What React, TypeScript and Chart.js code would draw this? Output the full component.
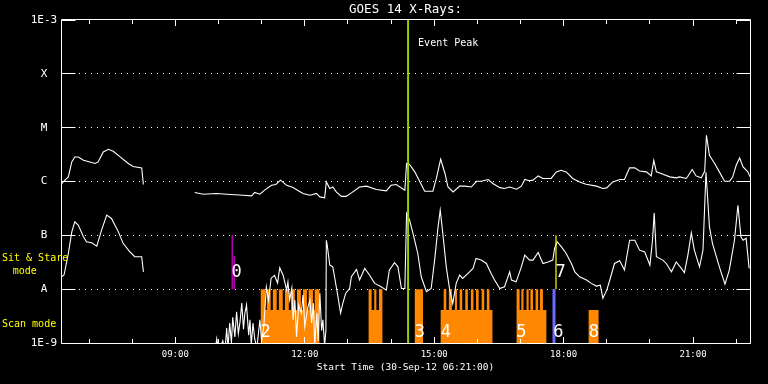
import React, { useEffect, useRef } from 'react';
import { Chart, registerables } from 'chart.js';

Chart.register(...registerables);

const TITLE = 'GOES 14 X-Rays:';
const X_TITLE = 'Start Time (30-Sep-12 06:21:00)';
const X_MIN = 6.35;
const X_MAX = 22.32;
const Y_MIN = 1e-9;
const Y_MAX = 1e-3;

const Y_TICK_VALUES = [1e-9, 1e-8, 1e-7, 1e-6, 1e-5, 1e-4, 1e-3];
const Y_TICK_LABELS = ['1E-9', 'A', 'B', 'C', 'M', 'X', '1E-3'];
const X_LABEL_HOURS = [9, 12, 15, 18, 21];
const X_LABELS = ['09:00', '12:00', '15:00', '18:00', '21:00'];
const X_HOUR_TICKS = [7, 8, 9, 10, 11, 12, 13, 14, 15, 16, 17, 18, 19, 20, 21, 22];

// Long-wavelength channel (upper curve)
const LONG_TIMES = [
  6.35, 6.40, 6.52, 6.60, 6.67, 6.75, 6.87, 7.02, 7.14, 7.21, 7.33, 7.45, 7.56, 7.72, 7.91, 8.02, 8.22, 8.26, 8.30,
  9.45, 9.65, 9.96, 10.19, 10.57, 10.77, 10.84, 10.96, 11.07, 11.23, 11.33, 11.44, 11.58, 11.73, 11.87, 11.96,
  12.12, 12.27, 12.35, 12.46, 12.50, 12.58, 12.65, 12.73, 12.85, 12.96, 13.08, 13.27, 13.43, 13.66, 13.89, 14.00,
  14.12, 14.32, 14.36, 14.43, 14.55, 14.67, 14.78, 14.97, 15.05, 15.15, 15.25, 15.32, 15.44, 15.59, 15.71, 15.86,
  15.98, 16.09, 16.25, 16.36, 16.52, 16.63, 16.75, 16.91, 17.02, 17.10, 17.21, 17.29, 17.41, 17.52, 17.71, 17.83,
  17.94, 18.06, 18.21, 18.37, 18.52, 18.76, 18.91, 19.00, 19.14, 19.30, 19.41, 19.53, 19.65, 19.76, 19.92, 20.03,
  20.09, 20.15, 20.26, 20.46, 20.61, 20.69, 20.84, 20.88, 20.98, 21.07, 21.19, 21.27, 21.31, 21.38, 21.50, 21.61,
  21.73, 21.85, 21.92, 22.00, 22.08, 22.16, 22.27, 22.32,
];
const LONG_FLUX = [
  0.88e-6, 0.98e-6, 1.22e-6, 2.31e-6, 2.86e-6, 2.86e-6, 2.48e-6, 2.31e-6, 2.16e-6, 2.31e-6, 3.54e-6, 3.97e-6, 3.65e-6, 2.86e-6, 2.16e-6, 1.90e-6, 1.79e-6, 0.88e-6, null,
  0.625e-6, 0.58e-6, 0.60e-6, 0.58e-6, 0.557e-6, 0.54e-6, 0.625e-6, 0.58e-6, 0.69e-6, 0.854e-6, 0.88e-6, 1.06e-6, 0.85e-6, 0.774e-6, 0.66e-6, 0.60e-6,
  0.557e-6, 0.60e-6, 0.518e-6, 0.497e-6, 0.98e-6, 0.74e-6, 0.79e-6, 0.64e-6, 0.53e-6, 0.53e-6, 0.615e-6, 0.79e-6, 0.82e-6, 0.71e-6, 0.67e-6, 0.85e-6,
  0.88e-6, 0.69e-6, 2.16e-6, 2.07e-6, 1.51e-6, 0.98e-6, 0.66e-6, 0.66e-6, 1.14e-6, 2.59e-6, 1.41e-6, 0.79e-6, 0.64e-6, 0.82e-6, 0.82e-6, 0.79e-6,
  1.01e-6, 1.01e-6, 1.09e-6, 0.92e-6, 0.77e-6, 0.74e-6, 0.79e-6, 0.72e-6, 0.82e-6, 1.09e-6, 1.03e-6, 1.06e-6, 1.27e-6, 1.14e-6, 1.14e-6, 1.51e-6,
  1.62e-6, 1.51e-6, 1.14e-6, 0.98e-6, 0.89e-6, 0.82e-6, 0.74e-6, 0.76e-6, 0.98e-6, 1.09e-6, 1.09e-6, 1.79e-6, 1.79e-6, 1.57e-6, 1.51e-6, 1.27e-6,
  2.48e-6, 1.51e-6, 1.41e-6, 1.22e-6, 1.17e-6, 1.22e-6, 1.14e-6, 1.25e-6, 1.67e-6, 1.27e-6, 1.17e-6, 1.55e-6, 7.22e-6, 3.07e-6, 2.16e-6, 1.51e-6,
  1.01e-6, 1.01e-6, 1.22e-6, 2.0e-6, 2.74e-6, 1.86e-6, 1.51e-6, 1.22e-6,
];

// Short-wavelength channel (lower curve)
const SHORT_TIMES = [
  6.35, 6.42, 6.52, 6.60, 6.67, 6.75, 6.87, 6.94, 7.06, 7.18, 7.29, 7.41, 7.52, 7.68, 7.79, 7.95, 8.06, 8.22, 8.26, 8.30,
  9.92, 9.96, 10.01, 10.10, 10.15, 10.19, 10.22, 10.26, 10.30, 10.33, 10.38, 10.42, 10.46, 10.50, 10.54, 10.58, 10.61,
  10.65, 10.70, 10.73, 10.76, 10.80, 10.84, 10.89, 10.96, 11.00, 11.05, 11.11, 11.16, 11.22, 11.30, 11.37, 11.42, 11.50,
  11.58, 11.61, 11.65, 11.70, 11.73, 11.77, 11.81, 11.86, 11.92, 11.96, 12.00, 12.07, 12.12, 12.16, 12.20, 12.23, 12.28,
  12.31, 12.35, 12.39, 12.42, 12.46, 12.49, 12.50, 12.52, 12.58, 12.65, 12.69, 12.77, 12.83, 12.88, 12.95, 13.04, 13.08,
  13.20, 13.27, 13.39, 13.50, 13.62, 13.77, 13.89, 13.96, 14.08, 14.16, 14.24, 14.32, 14.36, 14.43, 14.51, 14.62, 14.70,
  14.82, 14.93, 15.01, 15.09, 15.14, 15.20, 15.28, 15.36, 15.43, 15.51, 15.59, 15.66, 15.82, 15.90, 15.97, 16.09, 16.21,
  16.32, 16.40, 16.52, 16.63, 16.75, 16.79, 16.90, 17.02, 17.10, 17.21, 17.29, 17.41, 17.52, 17.64, 17.75, 17.79, 17.85,
  17.95, 18.06, 18.18, 18.26, 18.37, 18.53, 18.64, 18.76, 18.85, 18.91, 19.00, 19.07, 19.18, 19.30, 19.41, 19.53, 19.65,
  19.76, 19.88, 20.00, 20.06, 20.10, 20.15, 20.30, 20.38, 20.50, 20.61, 20.73, 20.80, 20.88, 20.96, 21.03, 21.15, 21.23,
  21.30, 21.38, 21.45, 21.61, 21.74, 21.84, 21.96, 22.04, 22.11, 22.16, 22.23, 22.30,
];
const SHORT_FLUX = [
  1.66e-8, 1.83e-8, 4.6e-8, 1.16e-7, 1.78e-7, 1.55e-7, 0.94e-7, 0.76e-7, 0.73e-7, 0.63e-7, 1.25e-7, 2.37e-7, 2.06e-7, 1.16e-7, 0.71e-7, 0.49e-7, 0.40e-7, 0.40e-7, 2.1e-8, null,
  0.7e-9, 1.2e-9, 0.7e-9, 1.1e-9, 0.7e-9, 1.9e-9, 0.8e-9, 2.35e-9, 1.0e-9, 3.0e-9, 1.3e-9, 3.8e-9, 1.5e-9, 2.5e-9, 5.5e-9, 1.8e-9, 3.5e-9,
  5.1e-9, 1.4e-9, 2.7e-9, 0.9e-9, 2.35e-9, 1.2e-9, 0.8e-9, 2.7e-9, 1.1e-9, 2.0e-9, 1.1e-8, 6.3e-9, 1.6e-8, 1.8e-8, 1.3e-8, 2.5e-8, 1.8e-8,
  9.6e-9, 1.35e-8, 6.3e-9, 1.05e-8, 2.7e-9, 6.3e-9, 1.3e-9, 5.1e-9, 3.6e-9, 7.8e-9, 2.0e-9, 4.6e-9, 6.3e-9, 2.35e-9, 5.5e-9, 0.9e-9, 3.6e-9,
  1.1e-9, 8.4e-9, 1.7e-9, 2.7e-9, 0.9e-9, 1.7e-9, 0.81e-7, 0.66e-7, 2.8e-8, 2.6e-8, 1.7e-8, 7.2e-9, 3.6e-9, 5.4e-9, 8.4e-9, 1.03e-8, 1.7e-8,
  2.33e-8, 1.48e-8, 2.43e-8, 1.83e-8, 1.28e-8, 1.11e-8, 0.96e-8, 2.26e-8, 3.1e-8, 2.6e-8, 1.03e-8, 1.03e-8, 2.55e-7, 1.91e-7, 1.08e-7, 4.6e-8, 1.7e-8,
  0.9e-8, 1.03e-8, 3.47e-8, 1.44e-7, 2.93e-7, 1.08e-7, 2.6e-8, 0.96e-8, 5.4e-9, 1.28e-8, 1.83e-8, 1.58e-8, 2.1e-8, 2.43e-8, 3.73e-8, 3.47e-8, 3.0e-8,
  1.96e-8, 1.48e-8, 1.03e-8, 1.11e-8, 2.1e-8, 1.48e-8, 1.37e-8, 2.6e-8, 4.3e-8, 3.47e-8, 3.47e-8, 4.8e-8, 3.0e-8, 3.2e-8, 3.47e-8, 5.7e-8, 7.6e-8,
  6.1e-8, 4.6e-8, 3.0e-8, 2.1e-8, 1.7e-8, 1.48e-8, 1.28e-8, 1.14e-8, 1.19e-8, 6.8e-9, 0.96e-8, 1.48e-8, 3.0e-8, 3.37e-8, 2.26e-8, 0.81e-7, 0.81e-7,
  5.3e-8, 4.9e-8, 2.8e-8, 8.1e-8, 2.61e-7, 4.0e-8, 3.47e-8, 3.0e-8, 2.1e-8, 3.2e-8, 2.43e-8, 2.02e-8, 4.3e-8, 1.11e-7, 5.3e-8, 2.6e-8, 5.3e-8,
  1.49e-6, 1.44e-7, 0.71e-7, 2.6e-8, 1.24e-8, 2.26e-8, 8.1e-8, 3.63e-7, 0.94e-7, 0.81e-7, 0.88e-7, 2.43e-8,
];

// Scan-mode coverage (stepped): each level holds until the next time
const SCAN_TIMES = [
  6.35,
  10.98, 11.08, 11.12, 11.21, 11.26, 11.35, 11.40, 11.49, 11.54, 11.63, 11.68, 11.77, 11.82, 11.91, 11.96, 12.05, 12.09, 12.19, 12.23, 12.34,
  13.48, 13.55, 13.61, 13.66, 13.72, 13.80,
  14.55, 14.74,
  15.15, 15.22, 15.28, 15.34, 15.41, 15.48, 15.53, 15.59, 15.65, 15.72, 15.78, 15.85, 15.91, 15.97, 16.03, 16.10, 16.16, 16.22, 16.28, 16.35,
  16.91, 16.98, 17.02, 17.07, 17.14, 17.19, 17.23, 17.29, 17.35, 17.41, 17.45, 17.52, 17.60,
  18.58, 18.81,
  22.32,
];
const SCAN_LEVELS = [
  1e-9,
  1e-8, 4.1e-9, 1e-8, 4.1e-9, 1e-8, 4.1e-9, 1e-8, 4.1e-9, 1e-8, 4.1e-9, 1e-8, 4.1e-9, 1e-8, 4.1e-9, 1e-8, 4.1e-9, 1e-8, 4.1e-9, 1e-8, 1e-9,
  1e-8, 4.1e-9, 1e-8, 4.1e-9, 1e-8, 1e-9,
  1e-8, 1e-9,
  4.1e-9, 1e-8, 4.1e-9, 1e-8, 4.1e-9, 1e-8, 4.1e-9, 1e-8, 4.1e-9, 1e-8, 4.1e-9, 1e-8, 4.1e-9, 1e-8, 4.1e-9, 1e-8, 4.1e-9, 1e-8, 4.1e-9, 1e-9,
  1e-8, 4.1e-9, 1e-8, 4.1e-9, 1e-8, 4.1e-9, 1e-8, 4.1e-9, 1e-8, 4.1e-9, 1e-8, 4.1e-9, 1e-9,
  4.1e-9, 1e-9,
  1e-9,
];

// Marker lines
const EVENT_PEAK_TIME = 14.395;
const SIT_STARE_TIMES = [10.318, 10.364];
const SIT_STARE_TOPS = [1e-7, 4.1e-8];
const SIT_STARE_BASE = 1e-8;
const MARK6_TIME = 17.777;
const MARK6_RANGE = [1e-9, 1e-8];
const MARK7_TIME = 17.823;
const MARK7_RANGE = [1e-8, 1e-7];

// Text annotations
const MARK_TEXTS = ['0', '2', '3', '4', '5', '6', '7', '8'];
const MARK_TIMES = [10.42, 11.09, 14.67, 15.27, 17.02, 17.88, 17.93, 18.70];
const MARK_FLUX = [2.07e-8, 1.53e-9, 1.53e-9, 1.53e-9, 1.53e-9, 1.53e-9, 2.07e-8, 1.53e-9];
const PEAK_TEXT = 'Event Peak';
const PEAK_TEXT_TIME = 14.627;
const PEAK_TEXT_FLUX = 3.66e-4;
const MODE_TEXTS = ['Sit & Stare', 'mode', 'Scan mode'];
const MODE_FLUX = [3.78e-8, 2.17e-8, 2.25e-9];

const MONO = '"DejaVu Sans Mono", monospace';

const pts = (ts: number[], vs: (number | null)[]) => ts.map((t, i) => ({ x: t, y: vs[i] }));

const decorPlugin = {
  id: 'decor',
  afterDatasetsDraw(chart: any) {
    const { ctx, chartArea: a, scales } = chart;
    const xs = scales.x;
    const ys = scales.y;
    const L = a.left + 0.5;
    const R = a.right + 0.5;
    const T = a.top - 0.5;
    const B = a.bottom + 0.5;
    ctx.save();
    ctx.strokeStyle = '#ffffff';
    ctx.lineWidth = 1;
    ctx.beginPath();
    ctx.rect(L, T, R - L, B - T);
    // y inward ticks
    Y_TICK_VALUES.forEach((v) => {
      const py = Math.round(ys.getPixelForValue(v) - 0.5) + 0.5;
      ctx.moveTo(L, py); ctx.lineTo(L + 14, py);
      ctx.moveTo(R, py); ctx.lineTo(R - 14, py);
    });
    // x inward ticks
    X_HOUR_TICKS.forEach((h) => {
      const px = Math.round(xs.getPixelForValue(h) - 0.5) + 0.5;
      const len = h % 3 === 0 ? 6.5 : 4.5;
      ctx.moveTo(px, B); ctx.lineTo(px, B - len);
      ctx.moveTo(px, T); ctx.lineTo(px, T + len);
    });
    ctx.stroke();

    // number labels
    ctx.fillStyle = '#ffffff';
    ctx.textAlign = 'center';
    ctx.textBaseline = 'middle';
    ctx.font = `17px ${MONO}`;
    MARK_TEXTS.forEach((t, i) => {
      ctx.fillText(t, xs.getPixelForValue(MARK_TIMES[i]), ys.getPixelForValue(MARK_FLUX[i]));
    });
    // event peak text
    ctx.font = `10px ${MONO}`;
    ctx.textAlign = 'left';
    ctx.fillText(PEAK_TEXT, xs.getPixelForValue(PEAK_TEXT_TIME), ys.getPixelForValue(PEAK_TEXT_FLUX));
    // mode labels (left margin)
    const modeLeft = [2, 12.7, 2];
    ctx.fillStyle = '#ffff00';
    MODE_TEXTS.forEach((t, i) => {
      ctx.fillText(t, modeLeft[i], ys.getPixelForValue(MODE_FLUX[i]));
    });
    ctx.restore();
  },
};

export default function App() {
  const ref = useRef<HTMLCanvasElement>(null);
  useEffect(() => {
    const canvas = ref.current!;
    const lineBase = { pointRadius: 0, pointHoverRadius: 0, tension: 0, fill: false };
    const chart = new Chart(canvas, {
      type: 'line',
      data: {
        datasets: [
          {
            ...lineBase,
            label: 'Event Peak',
            data: [{ x: EVENT_PEAK_TIME, y: Y_MAX }, { x: EVENT_PEAK_TIME, y: Y_MIN }],
            borderColor: '#99cc00',
            borderWidth: 2,
            order: 1,
          },
          {
            ...lineBase,
            label: 'Sit & Stare 1',
            data: [{ x: SIT_STARE_TIMES[0], y: SIT_STARE_TOPS[0] }, { x: SIT_STARE_TIMES[0], y: SIT_STARE_BASE }],
            borderColor: '#dd00dd',
            borderWidth: 1.2,
            order: 1,
          },
          {
            ...lineBase,
            label: 'Sit & Stare 2',
            data: [{ x: SIT_STARE_TIMES[1], y: SIT_STARE_TOPS[1] }, { x: SIT_STARE_TIMES[1], y: SIT_STARE_BASE }],
            borderColor: '#dd00dd',
            borderWidth: 1.2,
            order: 1,
          },
          {
            ...lineBase,
            label: 'Mark 6',
            data: [{ x: MARK6_TIME, y: MARK6_RANGE[0] }, { x: MARK6_TIME, y: MARK6_RANGE[1] }],
            borderColor: '#6a6aff',
            borderWidth: 3,
            order: 1,
          },
          {
            ...lineBase,
            label: 'Mark 7',
            data: [{ x: MARK7_TIME, y: MARK7_RANGE[0] }, { x: MARK7_TIME, y: MARK7_RANGE[1] }],
            borderColor: '#ffff00',
            borderWidth: 1.2,
            order: 1,
          },
          {
            ...lineBase,
            label: '1-8 A',
            data: pts(LONG_TIMES, LONG_FLUX),
            borderColor: '#ffffff',
            borderWidth: 1.1,
            order: 3,
          },
          {
            ...lineBase,
            label: '0.5-4 A',
            data: pts(SHORT_TIMES, SHORT_FLUX),
            borderColor: '#ffffff',
            borderWidth: 1.1,
            order: 3,
          },
          {
            label: 'Scan mode',
            data: pts(SCAN_TIMES, SCAN_LEVELS),
            stepped: true,
            fill: 'start',
            backgroundColor: '#ff8800',
            borderColor: 'rgba(0,0,0,0)',
            borderWidth: 0,
            pointRadius: 0,
            pointHoverRadius: 0,
            order: 5,
          },
        ] as any,
      },
      options: {
        responsive: false,
        maintainAspectRatio: false,
        devicePixelRatio: 1,
        animation: false,
        events: [],
        layout: { padding: { left: 0, right: 18, top: 0, bottom: 0 } },
        plugins: {
          legend: { display: false },
          tooltip: { enabled: false },
          title: {
            display: true,
            text: TITLE,
            color: '#ffffff',
            fullSize: false,
            font: { family: MONO, size: 12.5, weight: 'normal' },
            padding: { top: 2.5, bottom: 2.5 },
          },
        },
        scales: {
          x: {
            type: 'linear',
            min: X_MIN,
            max: X_MAX,
            afterFit: (s: any) => { s.height = 41; },
            afterBuildTicks: (s: any) => { s.ticks = X_LABEL_HOURS.map((v) => ({ value: v })); },
            ticks: {
              color: '#ffffff',
              font: { family: MONO, size: 9 },
              padding: 6.6,
              maxRotation: 0,
              autoSkip: false,
              callback: (v: any) => X_LABELS[X_LABEL_HOURS.indexOf(Number(v))] ?? '',
            },
            grid: { display: false, drawTicks: false },
            border: { display: false },
            title: {
              display: true,
              text: X_TITLE,
              color: '#ffffff',
              font: { family: MONO, size: 9.5 },
              padding: { top: 0, bottom: 10.3 },
            },
          },
          y: {
            type: 'logarithmic',
            min: Y_MIN,
            max: Y_MAX,
            afterFit: (s: any) => { s.width = 61; },
            afterBuildTicks: (s: any) => { s.ticks = Y_TICK_VALUES.map((v) => ({ value: v })); },
            ticks: {
              color: '#ffffff',
              font: { family: MONO, size: 11 },
              padding: 3.8,
              crossAlign: 'center',
              autoSkip: false,
              callback: (v: any) => {
                const i = Y_TICK_VALUES.findIndex((t) => Math.abs(Math.log10(t) - Math.log10(Number(v))) < 1e-6);
                return i >= 0 ? Y_TICK_LABELS[i] : '';
              },
            },
            grid: {
              drawTicks: false,
              lineWidth: 1,
              color: (c: any) => (c.index === 0 || c.index === Y_TICK_VALUES.length - 1 ? 'rgba(0,0,0,0)' : '#ffffff'),
              borderDash: [1, 5],
            } as any,
            border: { display: false, dash: [1, 5] },
          },
        },
      },
      plugins: [decorPlugin],
    } as any);
    return () => chart.destroy();
  }, []);
  return (
    <div style={{ position: 'fixed', left: 0, top: 0, width: 768, height: 384, background: '#000000' }}>
      <canvas ref={ref} width={768} height={384} style={{ display: 'block', width: 768, height: 384 }} />
    </div>
  );
}
